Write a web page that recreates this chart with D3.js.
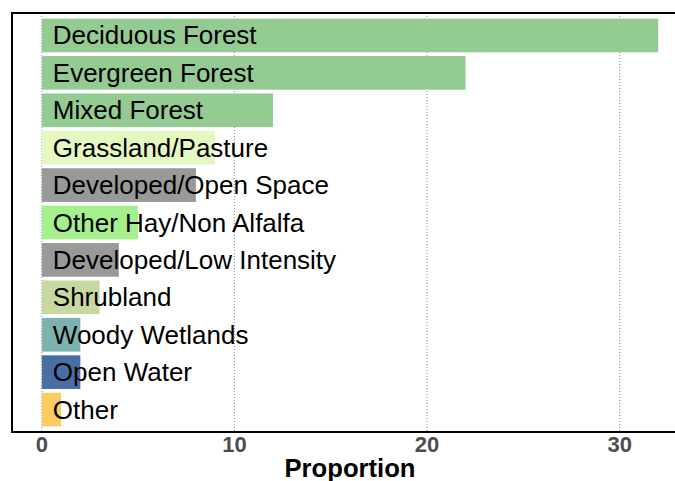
<!DOCTYPE html>
<html><head><meta charset="utf-8">
<script src="https://cdn.jsdelivr.net/npm/d3@7"></script>
<style>body{margin:0;background:#fff}svg{display:block}</style>
</head><body>
<svg id="chart" width="675" height="481"></svg>
<script>
const categories = ["Deciduous Forest","Evergreen Forest","Mixed Forest","Grassland/Pasture","Developed/Open Space","Other Hay/Non Alfalfa","Developed/Low Intensity","Shrubland","Woody Wetlands","Open Water","Other"];
const values = [32, 22, 12, 9, 8, 5, 4, 3, 2, 2, 1];
const colors = ["#93cb93","#93cb93","#93cb93","#e6f8c1","#999999","#a5ef8c","#999999","#c9d8a0","#7cb3b0","#4a6ea3","#fdcb63"];
const xTicks = [0, 10, 20, 30];
const xTitle = "Proportion";

const svg = d3.select("#chart");
const L = 12, R = 690, T = 13, B = 432;
const x = d3.scaleLinear().domain([-1.6, 33.6]).range([11, 689]);
const y = d3.scaleBand().domain(categories).range([T, B]).paddingInner(0.1).paddingOuter(0.15);

// grid
svg.append("g").selectAll("line").data(xTicks).join("line")
  .attr("x1", d => x(d)).attr("x2", d => x(d))
  .attr("y1", T).attr("y2", B)
  .attr("stroke", "#8c8c8c").attr("stroke-width", 1).attr("stroke-dasharray", "1,2");

// bars
svg.append("g").selectAll("rect").data(categories).join("rect")
  .attr("x", x(0)).attr("y", d => y(d))
  .attr("width", (d, i) => x(values[i]) - x(0))
  .attr("height", y.bandwidth())
  .attr("fill", (d, i) => colors[i]);

// labels
svg.append("g").selectAll("text").data(categories).join("text")
  .attr("x", x(0) + 11).attr("y", d => y(d) + y.bandwidth() / 2 + 9)
  .attr("font-family", "Liberation Sans, Arial, sans-serif")
  .attr("font-size", 26).attr("fill", "#000")
  .text(d => d);

// panel border (left, top, bottom)
svg.append("path")
  .attr("d", `M${R},${T}H${L}V${B}H${R}`)
  .attr("fill", "none").attr("stroke", "#000").attr("stroke-width", 2);

// tick labels
svg.append("g").selectAll("text").data(xTicks).join("text")
  .attr("x", d => x(d)).attr("y", 452)
  .attr("text-anchor", "middle")
  .attr("font-family", "Liberation Sans, Arial, sans-serif")
  .attr("font-weight", "bold").attr("font-size", 22).attr("fill", "#4d4d4d")
  .text(d => d);

// axis title
svg.append("text")
  .attr("x", 350).attr("y", 477)
  .attr("text-anchor", "middle")
  .attr("font-family", "Liberation Sans, Arial, sans-serif")
  .attr("font-weight", "bold").attr("font-size", 25)
  .attr("textLength", 131).attr("lengthAdjust", "spacingAndGlyphs")
  .attr("fill", "#000")
  .text(xTitle);
</script>
</body></html>
